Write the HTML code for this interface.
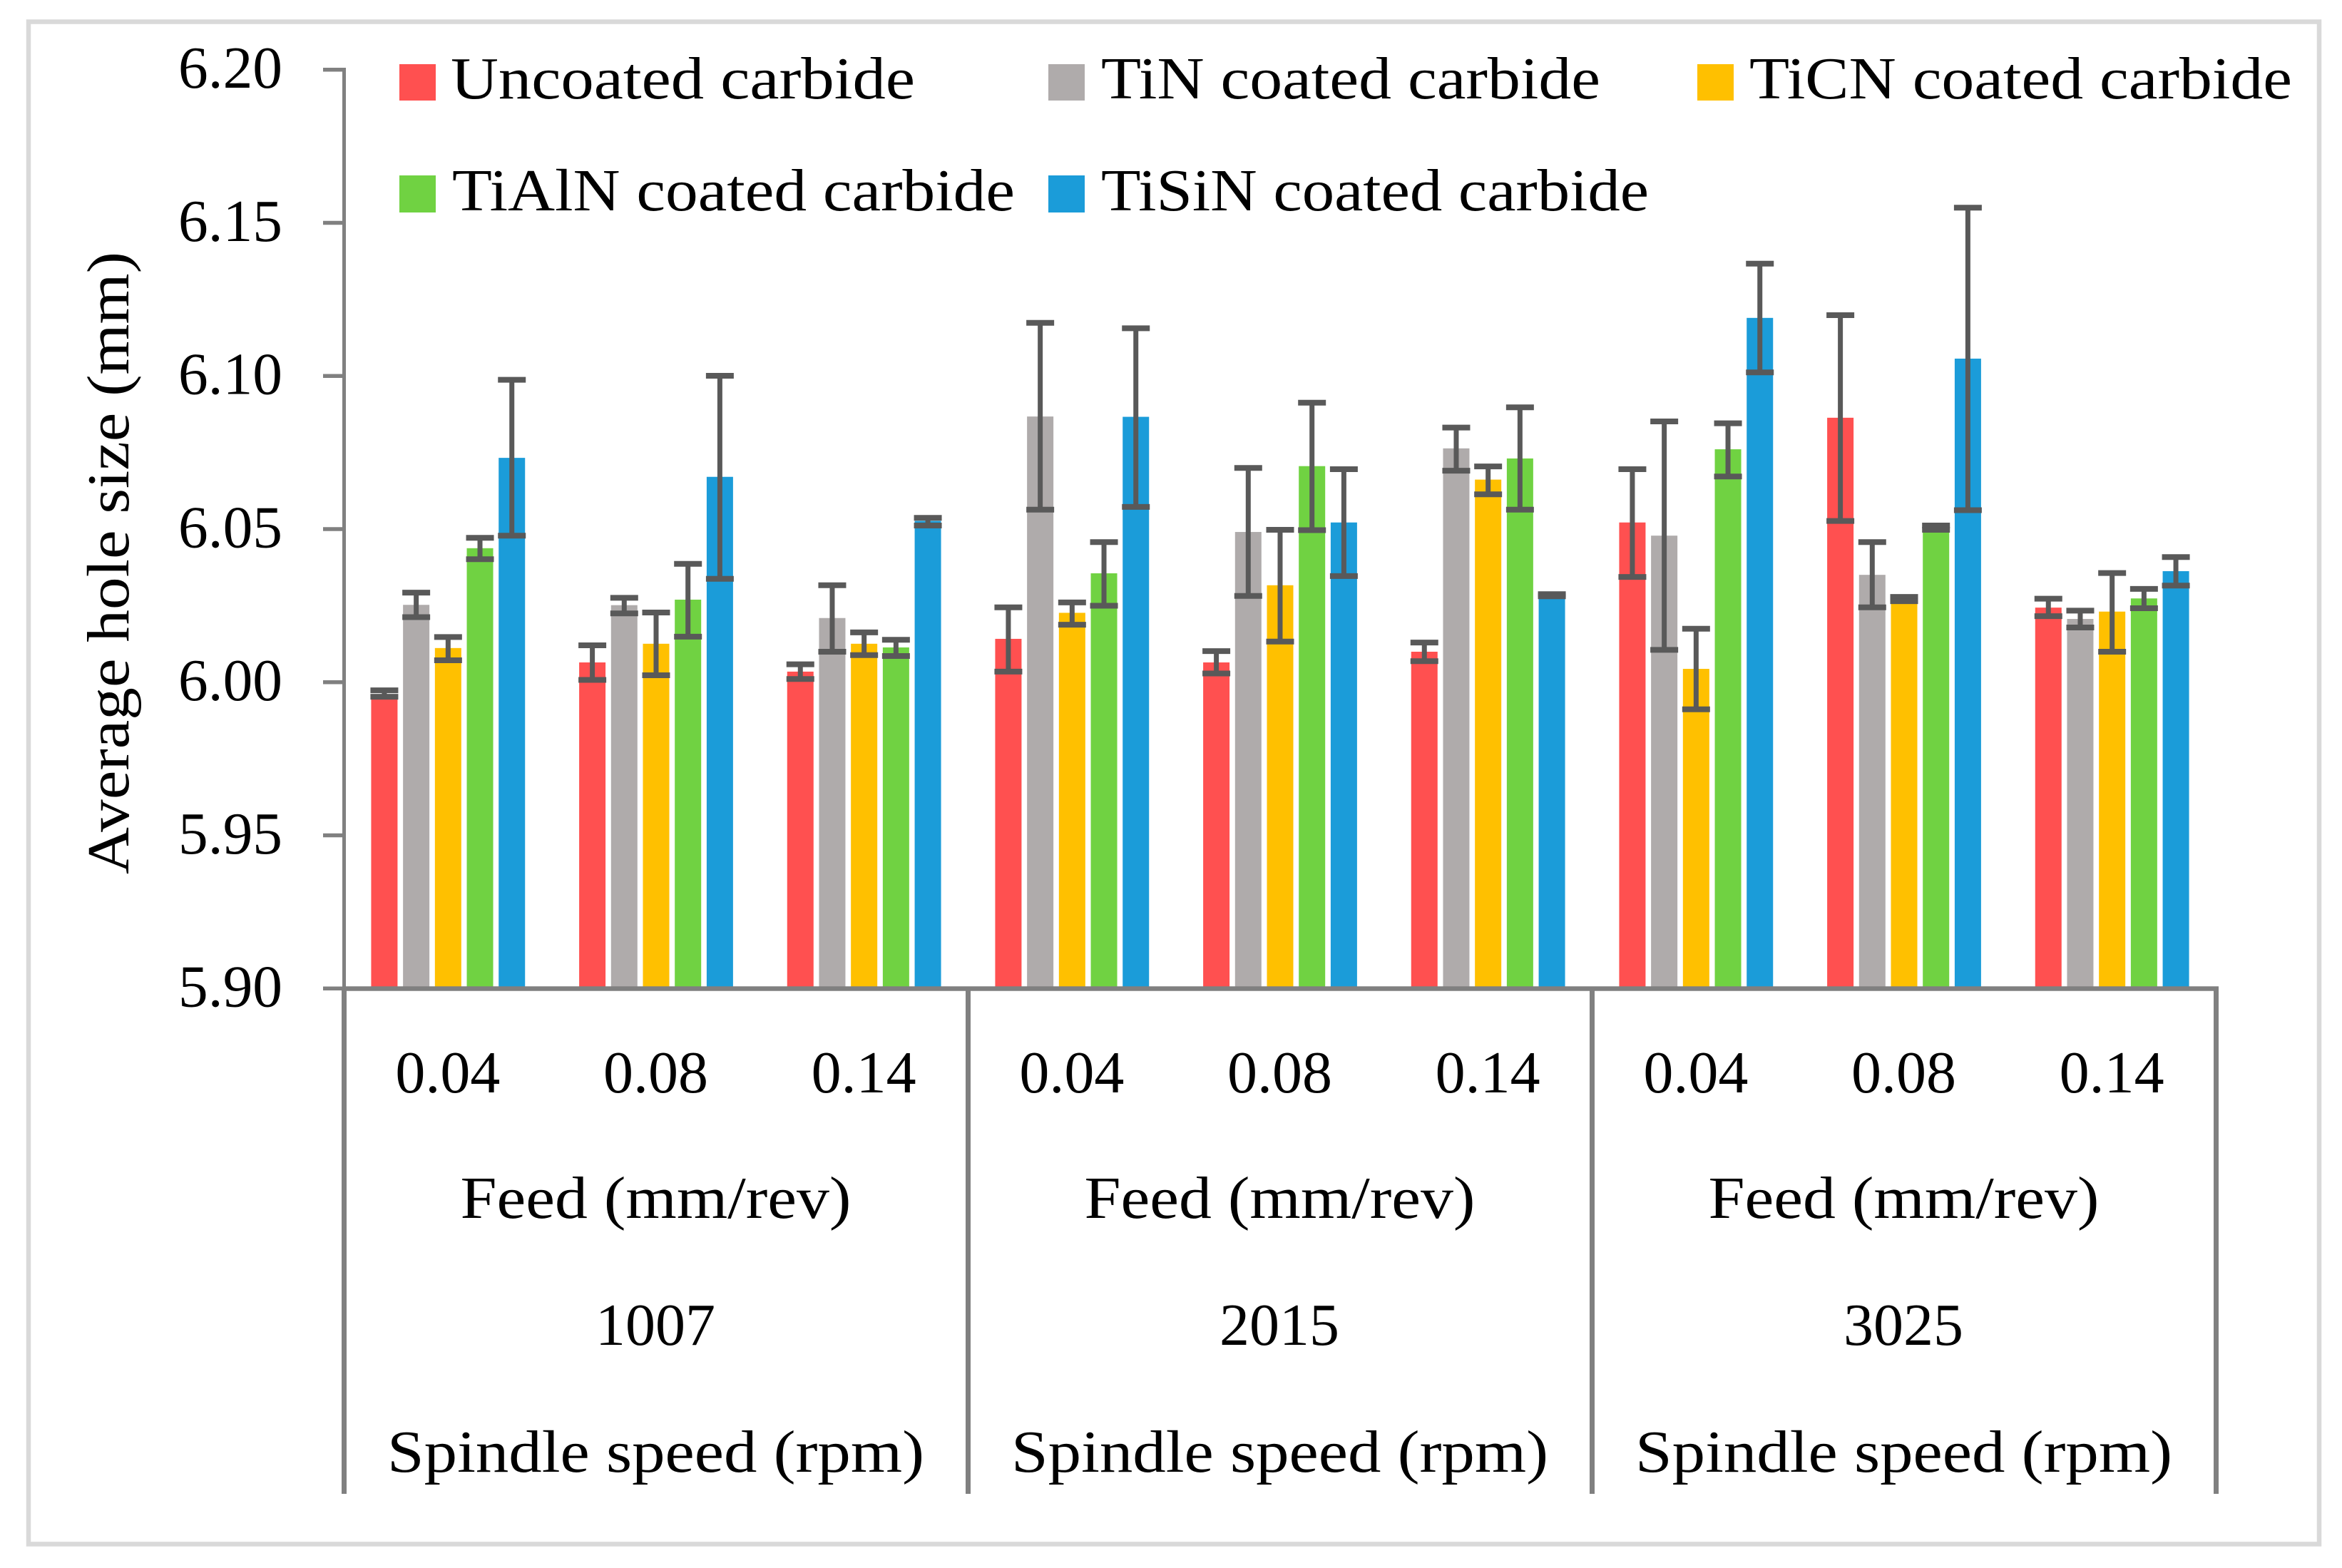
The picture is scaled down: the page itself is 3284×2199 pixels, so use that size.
<!DOCTYPE html>
<html lang="en">
<head>
<meta charset="utf-8">
<title>Average hole size by feed and spindle speed</title>
<style>
html,body{margin:0;padding:0;background:#fff;width:3284px;height:2199px;overflow:hidden}
svg{display:block;font-family:"Liberation Serif",serif;fill:#000}
text{font-size:84px}
</style>
</head>
<body>
<svg id="chart" width="3284" height="2199" viewBox="0 0 3284 2199" xmlns="http://www.w3.org/2000/svg">
<rect x="0" y="0" width="3284" height="2199" fill="#fff"/>
<rect x="40" y="30.5" width="3212" height="2135" fill="none" stroke="#d9d9d9" stroke-width="6.5"/>
<g id="bars"></g>
<g id="errors"></g>
<g id="axes"></g>
<g>
<rect x="560" y="90" width="51" height="51" fill="#ff5050"/>
<text x="632" y="138" textLength="651" lengthAdjust="spacingAndGlyphs">Uncoated carbide</text>
<rect x="1470" y="90" width="51" height="51" fill="#afabab"/>
<text x="1544" y="138" textLength="700" lengthAdjust="spacingAndGlyphs">TiN coated carbide</text>
<rect x="2380" y="90" width="51" height="51" fill="#ffc000"/>
<text x="2453" y="138" textLength="761" lengthAdjust="spacingAndGlyphs">TiCN coated carbide</text>
<rect x="560" y="246" width="51" height="52" fill="#70d242"/>
<text x="634" y="295" textLength="789" lengthAdjust="spacingAndGlyphs">TiAlN coated carbide</text>
<rect x="1470" y="246" width="51" height="52" fill="#1b9cd9"/>
<text x="1544" y="295" textLength="768" lengthAdjust="spacingAndGlyphs">TiSiN coated carbide</text>
</g>
<text transform="translate(180,1226) rotate(-90)" x="0" y="0" textLength="873" lengthAdjust="spacingAndGlyphs">Average hole size (mm)</text>
</svg>
<script>
const feedLabels = ["0.04","0.08","0.14","0.04","0.08","0.14","0.04","0.08","0.14"];
const speedLabels = ["1007","2015","3025"];
const yTicks = ["5.90","5.95","6.00","6.05","6.10","6.15","6.20"];

const uncoatedValues = [5.9960,6.0064,6.0034,6.0141,6.0064,6.0099,6.0521,6.0863,6.0243];
const uncoatedUpper  = [5.9973,6.0120,6.0058,6.0244,6.0101,6.0129,6.0695,6.1198,6.0272];
const uncoatedLower  = [5.9952,6.0007,6.0010,6.0034,6.0028,6.0068,6.0343,6.0526,6.0215];

const tinValues = [6.0252,6.0251,6.0209,6.0867,6.0490,6.0763,6.0478,6.0350,6.0206];
const tinUpper  = [6.0292,6.0275,6.0316,6.1173,6.0699,6.0831,6.0851,6.0457,6.0233];
const tinLower  = [6.0212,6.0224,6.0099,6.0563,6.0281,6.0690,6.0105,6.0244,6.0178];

const ticnValues = [6.0111,6.0125,6.0125,6.0226,6.0316,6.0661,6.0043,6.0271,6.0230];
const ticnUpper  = [6.0147,6.0227,6.0162,6.0260,6.0497,6.0704,6.0174,6.0278,6.0356];
const ticnLower  = [6.0071,6.0022,6.0088,6.0187,6.0132,6.0613,5.9911,6.0264,6.0099];

const tialnValues = [6.0437,6.0269,6.0113,6.0355,6.0705,6.0730,6.0760,6.0504,6.0273];
const tialnUpper  = [6.0471,6.0386,6.0138,6.0457,6.0912,6.0897,6.0845,6.0511,6.0304];
const tialnLower  = [6.0401,6.0148,6.0085,6.0249,6.0496,6.0563,6.0671,6.0497,6.0241];

const tisinValues = [6.0732,6.0670,6.0526,6.0866,6.0521,6.0282,6.1189,6.1056,6.0362];
const tisinUpper  = [6.0987,6.1000,6.0536,6.1155,6.0695,6.0287,6.1366,6.1549,6.0408];
const tisinLower  = [6.0478,6.0337,6.0511,6.0572,6.0346,6.0280,6.1011,6.0561,6.0315];

const seriesNames = ["uncoated","tin","ticn","tialn","tisin"];
const seriesColors = ["#ff5050","#afabab","#ffc000","#70d242","#1b9cd9"];
const seriesValues = [uncoatedValues,tinValues,ticnValues,tialnValues,tisinValues];
const seriesUpper = [uncoatedUpper,tinUpper,ticnUpper,tialnUpper,tisinUpper];
const seriesLower = [uncoatedLower,tinLower,ticnLower,tialnLower,tisinLower];

const NS = "http://www.w3.org/2000/svg";
const plotLeft = 482.5, plotBottom = 1386, plotTop = 97.5, catWidth = 875 / 3;
const yMin = 5.9, yMax = 6.2;
const barWidth = 37, barPitch = 44.7, capWidth = 39;
const axisColor = "#808080", errColor = "#595959";

function yScale(v) { return plotBottom - (v - yMin) / (yMax - yMin) * (plotBottom - plotTop); }
function catCenter(i) { return plotLeft + catWidth * (i + 0.5); }
function barCenter(i, s) { return catCenter(i) + (s - (seriesNames.length - 1) / 2) * barPitch; }
function make(parent, tag, attrs, txt) {
  const el = document.createElementNS(NS, tag);
  for (const k in attrs) el.setAttribute(k, attrs[k]);
  if (txt !== undefined) el.textContent = txt;
  parent.appendChild(el);
  return el;
}

const barsG = document.getElementById("bars");
const errG = document.getElementById("errors");
const axesG = document.getElementById("axes");

seriesNames.forEach((name, s) => {
  seriesValues[s].forEach((v, i) => {
    const cx = barCenter(i, s);
    const bar = make(barsG, "rect", {x: cx - barWidth / 2, y: yScale(v), width: barWidth, height: plotBottom - yScale(v), fill: seriesColors[s]});
    
    
    const hi = yScale(seriesUpper[s][i]), lo = yScale(seriesLower[s][i]);
    const stem = make(errG, "line", {x1: cx, x2: cx, y1: hi, y2: lo, stroke: errColor, "stroke-width": 7});
    
    
    const capTop = make(errG, "line", {x1: cx - capWidth / 2, x2: cx + capWidth / 2, y1: hi, y2: hi, stroke: errColor, "stroke-width": 8});
    
    
    const capBottom = make(errG, "line", {x1: cx - capWidth / 2, x2: cx + capWidth / 2, y1: lo, y2: lo, stroke: errColor, "stroke-width": 8});
    
    
  });
});

const yAxis = make(axesG, "line", {x1: plotLeft, x2: plotLeft, y1: plotTop - 2.5, y2: plotBottom + 2.5, stroke: axisColor, "stroke-width": 5});


const xAxis = make(axesG, "line", {x1: plotLeft - 2.5, x2: plotLeft + catWidth * feedLabels.length + 3.5, y1: plotBottom + 0.5, y2: plotBottom + 0.5, stroke: axisColor, "stroke-width": 6.5});



yTicks.forEach((t) => {
  const y = yScale(parseFloat(t));
  const tick = make(axesG, "line", {x1: plotLeft - 29.5, x2: plotLeft, y1: y + 0.3, y2: y + 0.3, stroke: axisColor, "stroke-width": 5.5});
  
  
  const label = make(axesG, "text", {x: 396, y: y + 25.5, "text-anchor": "end", textLength: 146, lengthAdjust: "spacingAndGlyphs"}, t);
  
  
});

feedLabels.forEach((t, i) => {
  const label = make(axesG, "text", {x: catCenter(i) - 0.5, y: 1532, "text-anchor": "middle", textLength: 147, lengthAdjust: "spacingAndGlyphs"}, t);
  
  
});

speedLabels.forEach((t, g) => {
  const cx = plotLeft + catWidth * (g * 3 + 1.5);
  const feedTitle = make(axesG, "text", {x: cx - 0.5, y: 1708, "text-anchor": "middle", textLength: 548, lengthAdjust: "spacingAndGlyphs"}, "Feed (mm/rev)");
  
  
  const speed = make(axesG, "text", {x: cx - 1, y: 1886, "text-anchor": "middle", textLength: 168, lengthAdjust: "spacingAndGlyphs"}, t);
  
  
  const speedTitle = make(axesG, "text", {x: cx - 0.5, y: 2064, "text-anchor": "middle", textLength: 753, lengthAdjust: "spacingAndGlyphs"}, "Spindle speed (rpm)");
  
  
});

for (let g = 0; g <= speedLabels.length; g++) {
  const x = plotLeft + catWidth * g * 3;
  const sep = make(axesG, "line", {x1: x, x2: x, y1: plotBottom, y2: 2095, stroke: axisColor, "stroke-width": 7});
  
  
}
</script>
</body>
</html>
